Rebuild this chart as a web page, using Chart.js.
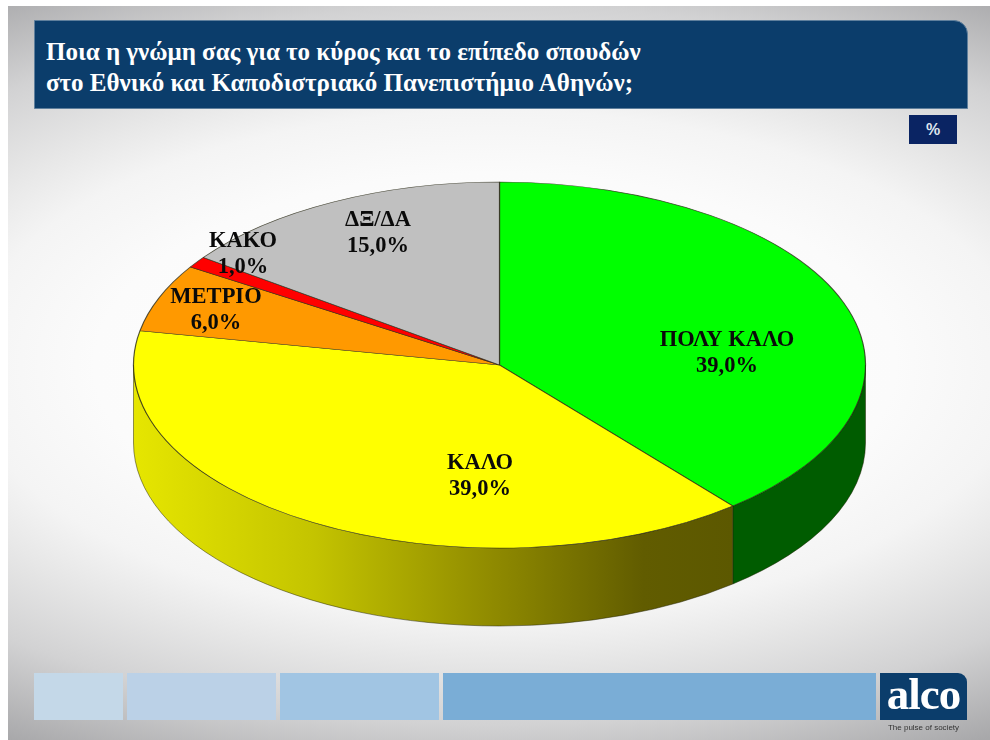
<!DOCTYPE html>
<html><head><meta charset="utf-8">
<script src="https://cdn.jsdelivr.net/npm/chart.js@4"></script>
<style>
html,body{margin:0;padding:0;background:#fff;width:990px;height:740px;overflow:hidden}
#slide{position:absolute;left:8px;top:6px;width:982px;height:734px;
 background:radial-gradient(ellipse 1000px 480px at 487px 359px,#fff 0%,#fbfbfb 40%,#f4f4f4 53%,#e8e8e8 61%,#d2d2d3 75%,#a8a8aa 92%);filter:blur(.45px)}
.abs{position:absolute}
#title{left:26px;top:14px;width:934px;height:89px;background:#0b3d6b;border-top-right-radius:14px;border:1px solid #5f7f9c;box-sizing:border-box}
#title div{position:absolute;left:11px;color:#fff;font:bold 25px "Liberation Serif",serif;white-space:nowrap}
#pct{left:901px;top:109px;width:48px;height:29px;background:#0a2463;color:#dfe4ee;font:bold 16px "Liberation Sans",sans-serif;text-align:center;line-height:29px}
.bar{top:667px;height:47px}
#logo{left:872px;top:667px;width:87px;height:47px;background:#0b3d6b;border-top-right-radius:9px;color:#fff;font:bold 45px "Liberation Serif",serif;text-align:center;line-height:43px;letter-spacing:-1px}
#tag{left:872px;top:717px;width:87px;text-align:center;color:#333;font:8px "Liberation Sans",sans-serif;white-space:nowrap}
canvas{position:absolute;left:-8px;top:-6px}
</style></head>
<body>
<div id="slide">
 <div class="abs" id="title"><div style="top:17px">Ποια η γνώμη σας για το κύρος και το επίπεδο σπουδών</div><div style="top:48px">στο Εθνικό και Καποδιστριακό Πανεπιστήμιο Αθηνών;</div></div>
 <div class="abs" id="pct">%</div>
 <div class="abs bar" style="left:26px;width:89px;background:#c4d8e8"></div>
 <div class="abs bar" style="left:119px;width:149px;background:#bbd1e7"></div>
 <div class="abs bar" style="left:272px;width:159px;background:#a1c5e3"></div>
 <div class="abs bar" style="left:435px;width:433px;background:#7aadd6"></div>
 <div class="abs" id="logo">alco</div>
 <div class="abs" id="tag">The pulse of society</div>
 <canvas id="c" width="990" height="740"></canvas>
</div>
<script>
const categories = ['ΠΟΛΥ ΚΑΛΟ', 'ΚΑΛΟ', 'ΜΕΤΡΙΟ', 'ΚΑΚΟ', 'ΔΞ/ΔΑ'];
const values = [39, 39, 6, 1, 15];
const topColors = ['#00ff00', '#ffff00', '#ff9900', '#ff0000', '#c0c0c0'];

const TILT = 0.5, DEPTH = 78;
const labelSpots = [[727, 353], [480, 476], [216, 310], [243, 254], [378, 233]];

function sideFill(ctx, i, x, R) {
  if (i === 0) return '#005c00';
  if (i === 1) {
    const g = ctx.createLinearGradient(x - R, 0, x + 234, 0);
    g.addColorStop(0, '#e6e600');
    g.addColorStop(0.3, '#c4c400');
    g.addColorStop(0.6, '#8f8a00');
    g.addColorStop(0.85, '#615c00');
    g.addColorStop(1, '#5c5800');
    return g;
  }
  return '#666';
}

const pie3d = {
  id: 'pie3d',
  beforeDatasetDraw(chart) {
    const ctx = chart.ctx, arcs = chart.getDatasetMeta(0).data;
    ctx.save();
    arcs.forEach((arc, i) => {
      const R = arc.outerRadius, cx = arc.x, cy = arc.y;
      const n = v => ((v % (2 * Math.PI)) + 2 * Math.PI) % (2 * Math.PI);
      const s = n(arc.startAngle), e = s + (arc.endAngle - arc.startAngle);
      // the wall shows only on the lower half of the ellipse (0..PI on the canvas)
      [[s, e], [s - 2 * Math.PI, e - 2 * Math.PI]].forEach(([p, q]) => {
        const lo = Math.max(p, 0), hi = Math.min(q, Math.PI);
        if (hi <= lo) return;
        ctx.beginPath();
        ctx.ellipse(cx, cy, R, R * TILT, 0, lo, hi);
        ctx.ellipse(cx, cy + DEPTH, R, R * TILT, 0, hi, lo, true);
        ctx.closePath();
        ctx.fillStyle = sideFill(ctx, i, cx, R);
        ctx.fill();
        ctx.lineWidth = 0.8;
        ctx.strokeStyle = 'rgba(30,30,0,.6)';
        ctx.stroke();
      });
    });
    ctx.restore();
    ctx.save();
    const c = arcs[0];
    ctx.translate(c.x, c.y);
    ctx.scale(1, TILT);
    ctx.translate(-c.x, -c.y);
  },
  afterDatasetDraw(chart) {
    chart.ctx.restore();
  },
  afterDraw(chart) {
    const ctx = chart.ctx;
    ctx.save();
    ctx.fillStyle = '#0a0a0a';
    ctx.font = 'bold 22.5px "Liberation Serif", serif';
    ctx.textAlign = 'center';
    ctx.textBaseline = 'middle';
    categories.forEach((name, i) => {
      const [x, y] = labelSpots[i];
      ctx.fillText(name, x, y - 13);
      ctx.fillText(values[i] + ',0%', x, y + 13);
    });
    ctx.restore();
  }
};

new Chart(document.getElementById('c'), {
  type: 'pie',
  data: {
    labels: categories,
    datasets: [{
      data: values,
      backgroundColor: topColors,
      borderColor: 'rgba(40,40,20,.8)',
      borderWidth: 1.2,
      clip: false
    }]
  },
  options: {
    responsive: false,
    animation: false,
    radius: 366,
    layout: { padding: { left: 9, bottom: 10 } },
    plugins: { legend: { display: false }, tooltip: { enabled: false }, title: { display: false } }
  },
  plugins: [pie3d]
});
</script>
</body></html>
